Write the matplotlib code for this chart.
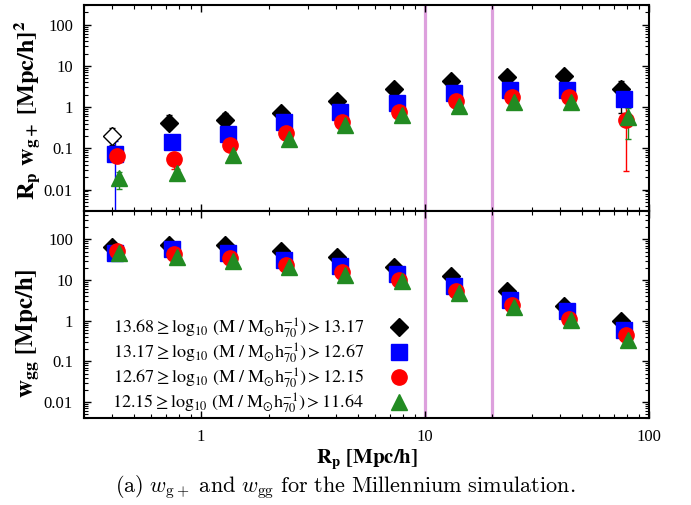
import matplotlib

matplotlib.use("Agg")
import matplotlib.pyplot as plt
import numpy as np

plt.rcParams["font.family"] = ["Liberation Serif", "DejaVu Serif"]
plt.rcParams["mathtext.fontset"] = "stix"

# projected separation bins [Mpc/h]
rp_bins = [0.40, 0.72, 1.28, 2.28, 4.05, 7.27, 13.1, 23.2, 41.7, 75.0]

# R_p w_g+ per mass bin (first black point is negative -> open marker)
wgp_m1 = [0.195, 0.41, 0.50, 0.73, 1.40, 2.7, 4.36, 5.3, 5.6, 2.7]
wgp_m2 = [0.074, 0.142, 0.22, 0.44, 0.76, 1.28, 2.23, 2.64, 2.64, 1.6]
wgp_m3 = [0.064, 0.055, 0.12, 0.24, 0.44, 0.77, 1.40, 1.75, 1.78, 0.48]
wgp_m4 = [0.019, 0.025, 0.07, 0.17, 0.36, 0.63, 1.06, 1.35, 1.35, 0.58]

# error bar bounds (lower, upper) for R_p w_g+
wgp_m1_lo = [0.12, 0.30, 0.38, 0.62, 1.20, 2.3, 3.8, 4.6, 4.8, 0.74]
wgp_m1_hi = [0.32, 0.66, 0.72, 0.85, 1.60, 3.1, 5.0, 6.0, 6.4, 4.4]
wgp_m2_lo = [1e-5, 0.12, 0.19, 0.38, 0.66, 1.10, 1.95, 2.3, 2.3, 1.2]
wgp_m2_hi = [0.15, 0.17, 0.26, 0.50, 0.88, 1.45, 2.55, 3.0, 3.0, 2.0]
wgp_m3_lo = [0.05, 0.032, 0.10, 0.21, 0.39, 0.68, 1.25, 1.55, 1.58, 0.028]
wgp_m3_hi = [0.08, 0.07, 0.14, 0.27, 0.50, 0.87, 1.55, 1.95, 2.0, 1.0]
wgp_m4_lo = [0.0104, 0.017, 0.06, 0.15, 0.32, 0.56, 0.95, 1.2, 1.2, 0.17]
wgp_m4_hi = [0.027, 0.031, 0.08, 0.19, 0.40, 0.70, 1.17, 1.5, 1.5, 0.93]

# w_gg per mass bin
wgg_m1 = [65, 72, 75, 52, 37, 21.5, 12.3, 5.4, 2.35, 0.97]
wgg_m2 = [47, 57, 46, 32, 22, 14, 7.1, 3.2, 1.73, 0.59]
wgg_m3 = [53, 44, 35, 24, 15.7, 10.3, 5.5, 2.5, 1.1, 0.45]
wgg_m4 = [46, 38, 29, 21, 13.7, 9.4, 4.9, 2.15, 1.06, 0.335]

mass_labels = [
    r"$13.68 \geq \log_{10}\,(\mathrm{M}\ /\ \mathrm{M}_{\odot}\mathrm{h}_{70}^{-1}) > 13.17$",
    r"$13.17 \geq \log_{10}\,(\mathrm{M}\ /\ \mathrm{M}_{\odot}\mathrm{h}_{70}^{-1}) > 12.67$",
    r"$12.67 \geq \log_{10}\,(\mathrm{M}\ /\ \mathrm{M}_{\odot}\mathrm{h}_{70}^{-1}) > 12.15$",
    r"$12.15 \geq \log_{10}\,(\mathrm{M}\ /\ \mathrm{M}_{\odot}\mathrm{h}_{70}^{-1}) > 11.64$",
]
scale_cuts = [10, 20]

styles = [
    dict(color="black", marker="D", ms=9, shift=1.0),
    dict(color="#0000ff", marker="s", ms=11, shift=1.028),
    dict(color="#ff0000", marker="o", ms=11, shift=1.052),
    dict(color="#228b22", marker="^", ms=11, shift=1.08),
]

fig = plt.figure(figsize=(6.91, 5.05), dpi=100)
ax_top = fig.add_axes([0.1216, 0.582, 0.8176, 0.408])
ax_bot = fig.add_axes([0.1216, 0.172, 0.8176, 0.410], sharex=ax_top)

rp = np.array(rp_bins)
top_sets = [
    (wgp_m1, wgp_m1_lo, wgp_m1_hi),
    (wgp_m2, wgp_m2_lo, wgp_m2_hi),
    (wgp_m3, wgp_m3_lo, wgp_m3_hi),
    (wgp_m4, wgp_m4_lo, wgp_m4_hi),
]
for (vals, lo, hi), st in zip(top_sets, styles):
    vals = np.array(vals)
    yerr = [vals - np.array(lo), np.array(hi) - vals]
    x = rp * st["shift"]
    ax_top.errorbar(x, vals, yerr=yerr, fmt="none", ecolor=st["color"], elinewidth=1.0, capsize=2.5, zorder=2)
    for i in range(len(vals)):
        face = "white" if (st["marker"] == "D" and i == 0) else st["color"]
        ax_top.plot(x[i], vals[i], linestyle="none", marker=st["marker"], ms=st["ms"],
                    mfc=face, mec=st["color"], mew=1.0, zorder=3)

for vals, st in zip([wgg_m1, wgg_m2, wgg_m3, wgg_m4], styles):
    ax_bot.plot(rp * st["shift"], vals, linestyle="none", marker=st["marker"], ms=st["ms"],
                mfc=st["color"], mec=st["color"], mew=1.0, zorder=3)

for ax in (ax_top, ax_bot):
    ax.set_xscale("log")
    ax.set_yscale("log")
    ax.set_xlim(0.3, 100)
    for cut in scale_cuts:
        ax.axvline(cut, color="#dda0dd", linewidth=2.3, zorder=1)
    ax.tick_params(which="both", direction="in", top=True, right=True, labelsize=12, pad=8)
    ax.tick_params(which="major", length=5, width=1.0)
    ax.tick_params(which="minor", length=3, width=0.8)
    for sp in ax.spines.values():
        sp.set_linewidth(1.5)

ax_top.set_ylim(0.003, 300)
ax_bot.set_ylim(0.004, 500)
ax_top.set_yticks([0.01, 0.1, 1, 10, 100])
ax_top.set_yticklabels(["0.01", "0.1", "1", "10", "100"])
ax_bot.set_yticks([0.01, 0.1, 1, 10, 100])
ax_bot.set_yticklabels(["0.01", "0.1", "1", "10", "100"])
ax_bot.set_xticks([1, 10, 100])
ax_bot.set_xticklabels(["1", "10", "100"])
ax_top.tick_params(labelbottom=False)

ax_top.set_ylabel(r"$\mathbf{R_p\ w_{g+}\ [Mpc/h]^2}$", fontsize=17.5)
ax_bot.set_ylabel(r"$\mathbf{w_{gg}\ [Mpc/h]}$", fontsize=18)
ax_bot.set_xlabel(r"$\mathbf{R_p\ [Mpc/h]}$", fontsize=15, labelpad=2)
ax_top.yaxis.set_label_coords(-0.074, 0.49)
ax_bot.yaxis.set_label_coords(-0.074, 0.41)

# gnuplot-style key: text right-aligned, symbol to its right
row_y = [0.44, 0.319, 0.198, 0.077]
for label, st, yk in zip(mass_labels, styles, row_y):
    ax_bot.text(0.496, yk - 0.028, label, transform=ax_bot.transAxes, ha="right", va="baseline", fontsize=13)
    ax_bot.plot([0.558], [yk], transform=ax_bot.transAxes, linestyle="none", marker=st["marker"],
                ms=st["ms"], mfc=st["color"], mec=st["color"], clip_on=False)

fig.text(0.5, 0.035,
         r"$\mathrm{(a)}\ w_{\mathrm{g+}}\ \mathrm{and}\ w_{\mathrm{gg}}\ \mathrm{for\ the\ Millennium\ simulation.}$",
         ha="center", va="center", fontsize=16, math_fontfamily="cm")

fig.savefig("out.png", dpi=100, facecolor="white")
